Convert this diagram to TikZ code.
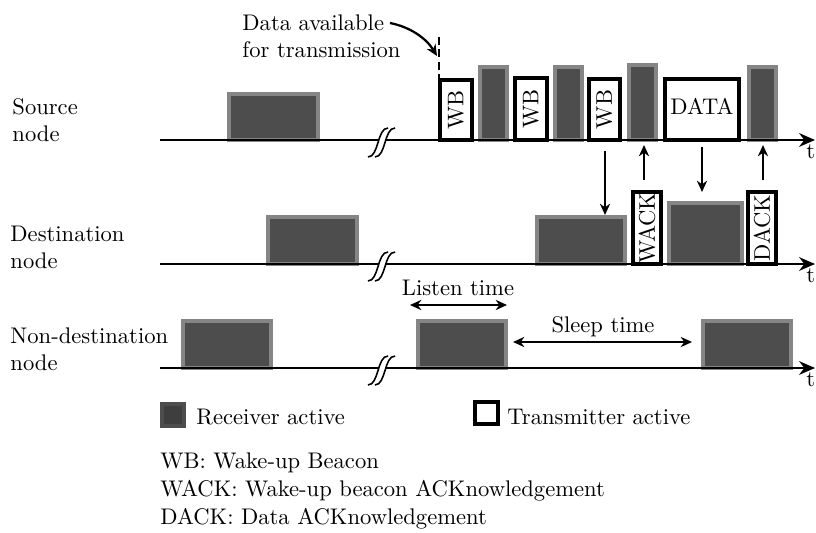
\documentclass[tikz,border=0pt]{standalone}
\usetikzlibrary{arrows.meta}
\definecolor{rxfill}{HTML}{4D4D4D}
\definecolor{rxedge}{HTML}{858585}
\tikzset{
  rx/.style={fill=rxfill, draw=rxedge, line width=1.5pt},
  tx/.style={fill=white, draw=black, line width=1.45pt},
  timeline/.style={line width=1.3pt, -{Stealth[length=7pt,width=6pt]}},
  sig/.style={line width=0.9pt, -{Stealth[length=5pt,width=4.5pt]}},
  span/.style={line width=0.8pt, {Stealth[length=5pt,width=4.5pt]}-{Stealth[length=5pt,width=4.5pt]}},
  lbl/.style={inner sep=0pt, align=left},
  boxtext/.style={rotate=90, inner sep=0pt},
  brk/.style={line width=0.7pt},
}
\newcommand{\breakmark}[2]{%
  \fill[white] (#1-14,#2+17) .. controls (#1-3,#2+17) and (#1-5,#2-12) .. (#1+6,#2-12)
     -- (#1+13,#2-12) .. controls (#1+2,#2-12) and (#1+4,#2+17) .. (#1-7,#2+17) -- cycle;
  \draw[brk] (#1-14,#2+17) .. controls (#1-3,#2+17) and (#1-5,#2-12) .. (#1+6,#2-12);
  \draw[brk] (#1-7,#2+17) .. controls (#1+4,#2+17) and (#1+2,#2-12) .. (#1+13,#2-12);
}
\begin{document}
\begin{tikzpicture}[x=0.4425pt,y=-0.4425pt]
\useasboundingbox (0,0) rectangle (816,532);

% ---------- row labels ----------
\node[lbl, anchor=west] (lsrc) at (12,120) {Source\\node};
\node[lbl, anchor=west] (ldst) at (10,247) {Destination\\node};
\node[lbl, anchor=west] (lnon) at (10,349) {Non-destination\\node};

% ---------- source row ----------
\draw[rx] (229,94) rectangle (318,140);
\draw[tx] (440,80) rectangle (472,140);
\node[boxtext] (wb1) at (456,110) {WB};
\draw[rx] (480,67) rectangle (507,140);
\draw[tx] (515,78) rectangle (547,140);
\node[boxtext] (wb2) at (531,109) {WB};
\draw[rx] (555,67) rectangle (582,140);
\draw[tx] (589,79) rectangle (620,140);
\node[boxtext] (wb3) at (604.5,109.5) {WB};
\draw[rx] (629,65) rectangle (656,140);
\draw[tx] (665,79) rectangle (739,140);
\node[inner sep=0pt] (data) at (702,106) {DATA};
\draw[rx] (749,67) rectangle (776,140);

\coordinate (s0) at (160,140);
\coordinate (s1) at (815,140);
\draw[timeline] (s0) -- (s1);
\node[inner sep=0pt, anchor=north west] (t1) at (806,144) {t};
\breakmark{382}{140}

% data available
\node[lbl, anchor=west] (avail) at (242,36) {Data available\\for transmission};
\coordinate (dashtop) at (439,37);
\coordinate (dashbot) at (439,79);
\draw[line width=1.3pt, dash pattern=on 3.5pt off 2pt] (dashtop) -- (dashbot);
\coordinate (acurve) at (390,23);
\coordinate (aend) at (437,56);
\draw[sig, line width=1pt] (acurve) .. controls (410,27) and (426,38) .. (aend);

% ---------- destination row ----------
\draw[rx] (268,217) rectangle (357,264);
\draw[rx] (537,217) rectangle (625,264);
\draw[tx] (633,192) rectangle (661,264);
\node[boxtext] (wack) at (647,228) {WACK};
\draw[rx] (669,203) rectangle (742,264);
\draw[tx] (748,192) rectangle (776,264);
\node[boxtext] (dack) at (762,228) {DACK};

\coordinate (d0) at (160,264);
\coordinate (d1) at (815,264);
\draw[timeline] (d0) -- (d1);
\node[inner sep=0pt, anchor=north west] (t2) at (806,268) {t};
\breakmark{382}{264}

% signalling arrows
\coordinate (a1s) at (605,151);
\coordinate (a1e) at (605,215);
\draw[sig] (a1s) -- (a1e);
\coordinate (a2s) at (644,180);
\coordinate (a2e) at (644,145);
\draw[sig] (a2s) -- (a2e);
\coordinate (a3s) at (702,147);
\coordinate (a3e) at (702,192);
\draw[sig] (a3s) -- (a3e);
\coordinate (a4s) at (763,180);
\coordinate (a4e) at (763,145);
\draw[sig] (a4s) -- (a4e);

% ---------- non-destination row ----------
\draw[rx] (183,321) rectangle (271,368);
\draw[rx] (418,321) rectangle (506,368);
\draw[rx] (703,321) rectangle (791,368);

\coordinate (n0) at (160,368);
\coordinate (n1) at (815,368);
\draw[timeline] (n0) -- (n1);
\node[inner sep=0pt, anchor=north west] (t3) at (806,372) {t};
\breakmark{382}{368}

\coordinate (ls) at (410,305);
\coordinate (le) at (507,305);
\draw[span] (ls) -- (le);
\node[inner sep=0pt] (listen) at (458,288) {Listen time};
\coordinate (ss) at (513,342);
\coordinate (se) at (692,342);
\draw[span] (ss) -- (se);
\node[inner sep=0pt] (sleep) at (603,327) {Sleep time};

% ---------- legend ----------
\draw[fill=rxfill!80!black, draw=rxfill, line width=1.5pt] (162,404) rectangle (184,426);
\node[inner sep=0pt, anchor=west] (lrx) at (196,417) {Receiver active};
\draw[tx] (475,402) rectangle (498,424);
\node[inner sep=0pt, anchor=west] (ltx) at (507,417) {Transmitter active};

\node[lbl, anchor=west, font={\fontsize{10}{12.6}\selectfont}] (abbr) at (160,491) {WB: Wake-up Beacon\\WACK: Wake-up beacon ACKnowledgement\\DACK: Data ACKnowledgement};
\end{tikzpicture}
\end{document}
